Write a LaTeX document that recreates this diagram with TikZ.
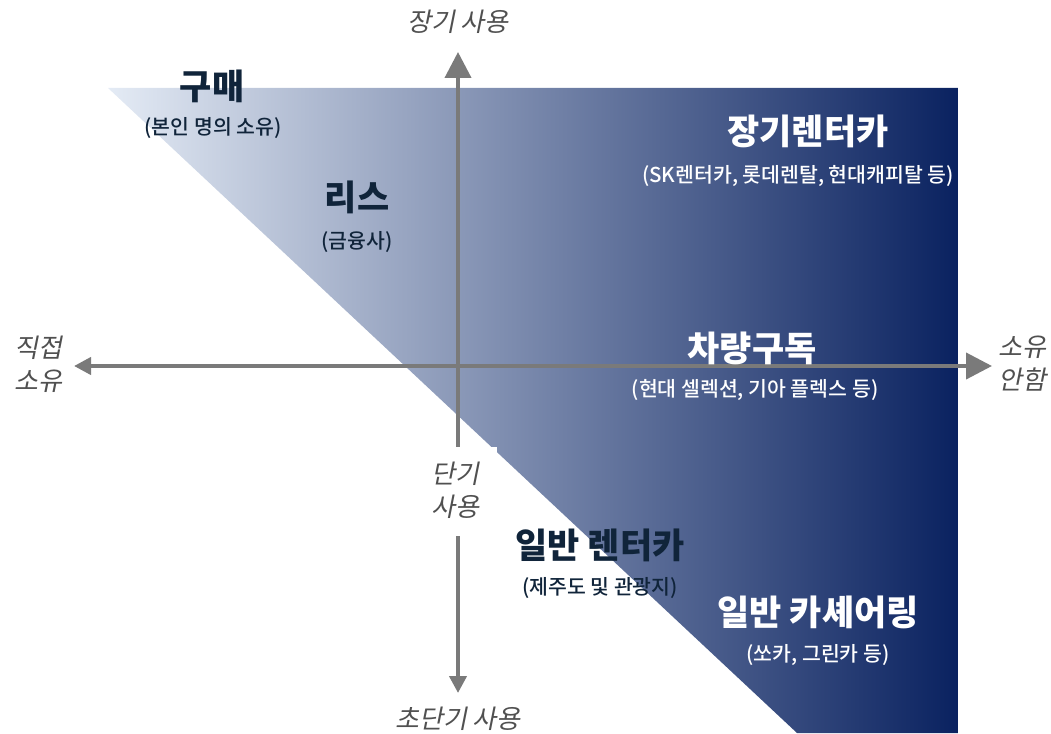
\documentclass[tikz,border=0pt]{standalone}
\usepackage{fontspec}
\setmainfont{Noto Sans CJK KR}
\newfontfamily\axisfont{Noto Sans CJK KR}[FakeSlant=0.2]
\newfontfamily\medfont{Noto Sans CJK KR Medium}
\usetikzlibrary{arrows.meta}
\definecolor{darktext}{HTML}{10243A}
\definecolor{axisgray}{HTML}{7A7A7A}
\definecolor{axistext}{HTML}{505050}
\definecolor{gradleft}{RGB}{228,235,245}
\definecolor{gradright}{RGB}{10,34,96}
\tikzset{
  x=1pt, y=-1pt,
  axisline/.style={draw=axisgray, line width=4pt},
  bigtip/.style={-{Triangle[length=26pt,width=26pt]}},
  smalltip/.style={-{Triangle[length=17pt,width=17pt]}},
  axislabel/.style={text=axistext, font=\axisfont\fontsize{26}{33}\selectfont, align=center, inner sep=0pt},
  mainlabel/.style={font=\bfseries\fontsize{35}{40}\selectfont, inner sep=0pt},
  sublabel/.style={font=\medfont\fontsize{20.5}{24}\selectfont, inner sep=0pt},
}
\begin{document}
\begin{tikzpicture}
\useasboundingbox (0,0) rectangle (1051,733);
% gradient region
\shade[left color=gradleft, right color=gradright] (108,88) -- (958,88) -- (958,733) -- (797,733) -- cycle;
% axes
\coordinate (center) at (458,366);
\coordinate (top) at (458,52);
\coordinate (bottom) at (458,693);
\coordinate (left) at (74,366);
\coordinate (right) at (992,366);
\draw[axisline, bigtip] (center) -- (top);
\draw[axisline, smalltip] (center) -- (bottom);
\draw[axisline, smalltip] (center) -- (left);
\draw[axisline, bigtip] (center) -- (right);
% short-term label with white box
\node[fill=white, minimum width=78pt, minimum height=89pt, inner sep=0pt] (shortbox) at (458,491.5) {};
\node[axislabel] (short) at (455,490) {단기\\사용};
% axis labels
\node[axislabel] (longuse) at (458,22) {장기 사용};
\node[axislabel] (vshort) at (458,719) {초단기 사용};
\node[axislabel] (own) at (38,364) {직접\\소유};
\node[axislabel] (noown) at (1022,364) {소유\\안함};
% category labels
\node[mainlabel, text=darktext] (buy) at (212,86) {구매};
\node[sublabel, text=darktext] (buysub) at (213,128) {(본인 명의 소유)};
\node[mainlabel, text=darktext] (lease) at (357,197) {리스};
\node[sublabel, text=darktext] (leasesub) at (357,242) {(금융사)};
\node[mainlabel, text=white] (ltr) at (808,131) {장기렌터카};
\node[sublabel, text=white] (ltrsub) at (798,176) {(SK렌터카, 롯데렌탈, 현대캐피탈 등)};
\node[mainlabel, text=white] (sub) at (752,348) {차량구독};
\node[sublabel, text=white] (subsub) at (755,390) {(현대 셀렉션, 기아 플렉스 등)};
\node[mainlabel, text=darktext] (rent) at (600,545) {일반 렌터카};
\node[sublabel, text=darktext] (rentsub) at (600,588) {(제주도 및 관광지)};
\node[mainlabel, text=white] (share) at (818,612) {일반 카셰어링};
\node[sublabel, text=white] (sharesub) at (818,655) {(쏘카, 그린카 등)};
\end{tikzpicture}
\end{document}
